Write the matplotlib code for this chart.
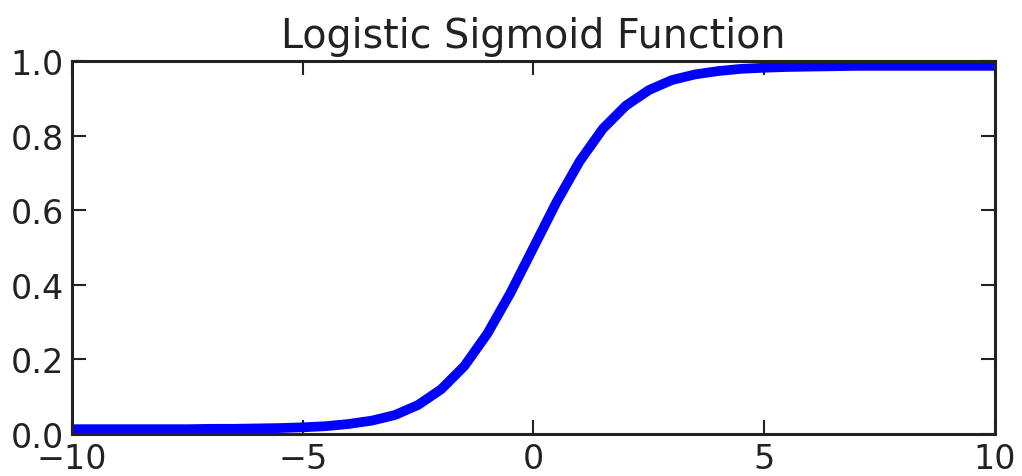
import numpy as np
import matplotlib
matplotlib.use('Agg')
import matplotlib.pyplot as plt

# values (the flat tails sit just inside the frame)
x_vals = [-10, -9.5, -9, -8.5, -8, -7.5, -7, -6.5, -6, -5.5, -5, -4.5, -4, -3.5, -3,
          -2.5, -2, -1.5, -1, -0.5, 0, 0.5, 1, 1.5, 2, 2.5, 3, 3.5, 4, 4.5, 5,
          5.5, 6, 6.5, 7, 7.5, 8, 8.5, 9, 9.5, 10]
y_vals = [0.013, 0.013, 0.013, 0.013, 0.013, 0.013, 0.014, 0.014, 0.015, 0.016, 0.018,
          0.021, 0.027, 0.036, 0.051, 0.078, 0.120, 0.182, 0.269, 0.378, 0.500,
          0.622, 0.731, 0.818, 0.880, 0.922, 0.949, 0.964, 0.973, 0.979, 0.982,
          0.984, 0.985, 0.986, 0.987, 0.987, 0.987, 0.987, 0.987, 0.987, 0.987]
x_ticks = [-10, -5, 0, 5, 10]
y_ticks = [0.0, 0.2, 0.4, 0.6, 0.8, 1.0]

plt.rcParams['font.family'] = ['DejaVu Sans']

fig = plt.figure(figsize=(10.22, 4.77), dpi=100)
ax = fig.add_axes([0.0705, 0.088, 0.903, 0.782])

ax.plot(x_vals, y_vals, color='blue', linewidth=7, solid_capstyle='butt')

ax.set_xlim(-10, 10)
ax.set_ylim(0, 1)
ax.set_xticks(x_ticks)
ax.set_yticks(y_ticks)
ax.set_xticklabels(['\u221210', '\u22125', '0', '5', '10'])
ax.set_yticklabels(['%.1f' % v for v in y_ticks])
ax.tick_params(direction='in', length=10, width=1.5, labelsize=24,
               top=True, right=True, pad=6, colors='#222222')
ax.tick_params(axis='x', pad=6)
for sp in ax.spines.values():
    sp.set_linewidth(2.2)
    sp.set_color('#222222')

ax.set_title('Logistic Sigmoid Function', fontsize=28.5, pad=10, color='#222222')

fig.savefig('out.png', dpi=100)
